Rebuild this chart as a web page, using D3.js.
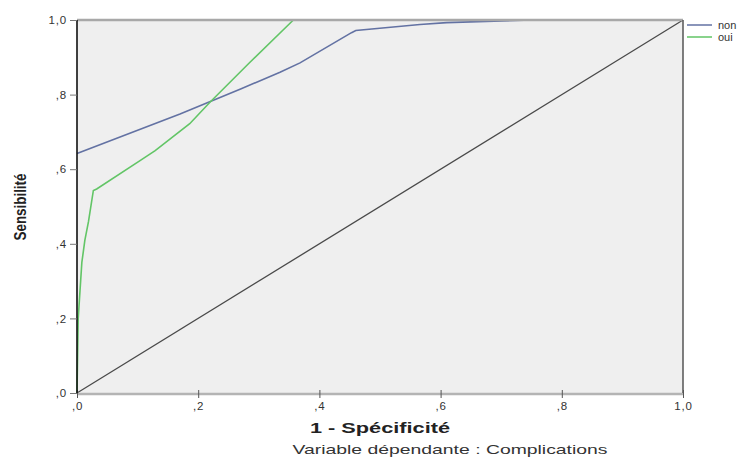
<!DOCTYPE html>
<html>
<head>
<meta charset="utf-8">
<script src="https://cdn.jsdelivr.net/npm/d3@7"></script>
<style>
  html, body { margin: 0; padding: 0; background: #fff; overflow: hidden; }
  svg { display: block; font-family: "Liberation Sans", Arial, sans-serif; }
</style>
</head>
<body>
<div id="chart"></div>
<script>
// ROC curve data (1 - specificity, sensitivity)
const nonX = [0, 0.17, 0.27, 0.335, 0.368, 0.453, 0.46, 0.566, 0.61, 0.75, 1.0];
const nonY = [0.642, 0.748, 0.815, 0.86, 0.885, 0.966, 0.972, 0.988, 0.993, 1.0, 1.0];
const ouiX = [0, 0.002, 0.008, 0.013, 0.019, 0.027, 0.0325, 0.104, 0.129, 0.186, 0.219, 0.285, 0.357];
const ouiY = [0, 0.2, 0.35, 0.41, 0.46, 0.543, 0.547, 0.623, 0.65, 0.722, 0.779, 0.886, 1.0];
const refLine = [[0, 0], [1, 1]];

const ticks = [0, 0.2, 0.4, 0.6, 0.8, 1.0];
const tickLabels = [',0', ',2', ',4', ',6', ',8', '1,0'];
const seriesNames = ['non', 'oui'];
const seriesColors = ['#6372a3', '#62c566'];

const width = 743, height = 461;
const margin = { top: 20, right: 60, bottom: 68, left: 77 };
const innerWidth = width - margin.left - margin.right;
const innerHeight = height - margin.top - margin.bottom;

const svg = d3.select('#chart')
  .append('svg')
  .attr('width', width)
  .attr('height', height);

const g = svg.append('g')
  .attr('transform', `translate(${margin.left},${margin.top})`);

const xScale = d3.scaleLinear().domain([0, 1]).range([0, innerWidth]);
const yScale = d3.scaleLinear().domain([0, 1]).range([innerHeight, 0]);

// Plot background
g.append('rect')
  .attr('width', innerWidth)
  .attr('height', innerHeight)
  .attr('fill', '#efefef');

const line = d3.line()
  .x(d => xScale(d[0]))
  .y(d => yScale(d[1]));

// Reference diagonal
g.append('path')
  .datum(refLine)
  .attr('d', line)
  .attr('fill', 'none')
  .attr('stroke', '#4a4a4a')
  .attr('stroke-width', 1.3);

// Curves
const series = [
  nonX.map((x, i) => [x, nonY[i]]),
  ouiX.map((x, i) => [x, ouiY[i]])
];
series.forEach((pts, i) => {
  g.append('path')
    .datum(pts)
    .attr('d', line)
    .attr('fill', 'none')
    .attr('stroke', seriesColors[i])
    .attr('stroke-width', 1.6);
});

// Frame: top and bottom gray, right dark
g.append('line')
  .attr('x1', 0).attr('x2', innerWidth).attr('y1', 0).attr('y2', 0)
  .attr('stroke', '#a8a8a8').attr('stroke-width', 2.5);
g.append('line')
  .attr('x1', 0).attr('x2', innerWidth).attr('y1', innerHeight + 1).attr('y2', innerHeight + 1)
  .attr('stroke', '#b4b4b4').attr('stroke-width', 2.5);
g.append('line')
  .attr('x1', innerWidth).attr('x2', innerWidth).attr('y1', 0).attr('y2', innerHeight)
  .attr('stroke', '#555').attr('stroke-width', 1.5);

// Axes
const xAxis = g.append('g')
  .attr('transform', `translate(0,${innerHeight})`)
  .call(d3.axisBottom(xScale).tickValues(ticks).tickSize(5).tickPadding(4)
    .tickFormat((d, i) => tickLabels[i]));
xAxis.select('.domain').remove();
xAxis.selectAll('line').attr('stroke', '#555').attr('y1', -3);

const yAxis = g.append('g')
  .call(d3.axisLeft(yScale).tickValues(ticks).tickSize(7).tickPadding(3)
    .tickFormat((d, i) => tickLabels[i]));
yAxis.select('.domain').attr('stroke', '#111').attr('stroke-width', 1.6)
  .attr('d', `M0,0V${innerHeight}`);
yAxis.selectAll('line').attr('stroke', '#777');

svg.selectAll('.tick text')
  .attr('font-size', 11.5)
  .attr('letter-spacing', 0.8)
  .attr('fill', '#333')
  .attr('font-family', '"Liberation Sans", Arial, sans-serif');

// Axis titles
svg.append('text')
  .attr('x', margin.left + innerWidth / 2)
  .attr('y', 433)
  .attr('text-anchor', 'middle')
  .attr('font-size', 14)
  .attr('font-weight', 'bold')
  .attr('fill', '#222')
  .attr('textLength', 140)
  .attr('lengthAdjust', 'spacingAndGlyphs')
  .text('1 - Spécificité');

svg.append('text')
  .attr('transform', `translate(26,207) rotate(-90)`)
  .attr('text-anchor', 'middle')
  .attr('font-size', 17)
  .attr('font-weight', 'bold')
  .attr('fill', '#222')
  .attr('textLength', 67)
  .attr('lengthAdjust', 'spacingAndGlyphs')
  .text('Sensibilité');

svg.append('text')
  .attr('x', 450)
  .attr('y', 454)
  .attr('text-anchor', 'middle')
  .attr('font-size', 13)
  .attr('fill', '#333')
  .attr('textLength', 315)
  .attr('lengthAdjust', 'spacingAndGlyphs')
  .text('Variable dépendante : Complications');

// Legend
const legend = svg.append('g').attr('transform', 'translate(687,25)');
seriesNames.forEach((name, i) => {
  const row = legend.append('g').attr('transform', `translate(0,${i * 12})`);
  row.append('line')
    .attr('x1', 0).attr('x2', 25).attr('y1', 0).attr('y2', 0)
    .attr('stroke', seriesColors[i]).attr('stroke-width', 1.5);
  row.append('text')
    .attr('x', 31).attr('y', 4)
    .attr('font-size', 11)
    .attr('fill', '#333')
    .text(name);
});
</script>
</body>
</html>
